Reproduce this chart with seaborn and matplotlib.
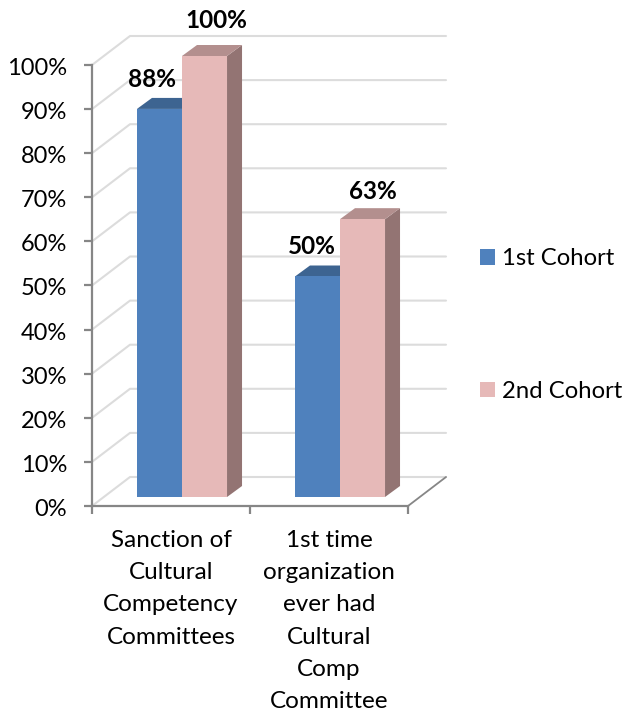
import pandas as pd
import matplotlib.pyplot as plt
import seaborn as sns
from matplotlib.patches import Polygon
from matplotlib.transforms import Affine2D, IdentityTransform

categories = ['Sanction of\nCultural\nCompetency\nCommittees',
              '1st time\norganization\never had\nCultural\nComp\nCommittee']
cohorts = ['1st Cohort', '2nd Cohort']
first_cohort = [88, 50]
second_cohort = [100, 63]
yticks = list(range(0, 101, 10))

colors = {'1st Cohort': '#4f81bd', '2nd Cohort': '#e6b9b8'}
top_colors = ['#3d6491', '#b38f8e']
side_colors = ['#3a5f8a', '#937473']
grid_color = '#dcdcdc'
axis_color = '#868686'

df = pd.DataFrame({'cat': categories * 2,
                   'cohort': [cohorts[0]] * 2 + [cohorts[1]] * 2,
                   'value': first_cohort + second_cohort})

sns.set_style('ticks')
plt.rcParams['font.family'] = ['Lato', 'DejaVu Sans']

W, H = 623, 715
fig = plt.figure(figsize=(W / 100, H / 100), dpi=100)
ax = fig.add_axes([92 / W, (H - 506) / H, 316 / W, 441 / H])

sns.barplot(data=df, x='cat', y='value', hue='cohort', hue_order=cohorts,
            palette=colors, saturation=1, width=0.57, gap=0, dodge=True,
            errorbar=None, ax=ax, zorder=3, linewidth=0, edgecolor='none')
ax.set_xlim(-0.5, 1.5)
ax.set_ylim(0, 100)
ax.set_xlabel('')
ax.set_ylabel('')
ax.set_yticks(yticks)
ax.set_yticklabels(['%d%%' % t for t in yticks], fontsize=17, color='black')
ax.set_xticks([-0.5, 0.5, 1.5], minor=False)
ax.set_xticklabels(['', '', ''])
sns.despine(ax=ax)

# the 3D look: wall/floor shift and bar shift, in pixels
wall_dx, wall_dy = 38, 29
bar_dx, bar_dy = 11, 9
depth_dx, depth_dy = 15, 11

for s in ['left', 'bottom']:
    ax.spines[s].set_color(axis_color)
    ax.spines[s].set_linewidth(1.6)
ax.tick_params(axis='y', length=6, width=1.6, color=axis_color, pad=12)
ax.tick_params(axis='x', length=5.5, width=1.6, color=axis_color)
for lab in ax.get_yticklabels():
    lab.set_transform(lab.get_transform() + Affine2D().translate(0, -1.5))

fig.canvas.draw()
px = IdentityTransform()

# gridlines on side and back wall
for t in yticks:
    x0, y0 = ax.transData.transform((-0.5, t))
    x1, _ = ax.transData.transform((1.5, t))
    ax.plot([x0, x0 + wall_dx, x1 + wall_dx], [y0, y0 + wall_dy, y0 + wall_dy],
            transform=px, color=grid_color, lw=1.5, clip_on=False, zorder=1)
x0, y0 = ax.transData.transform((1.5, 0))
ax.plot([x0, x0 + wall_dx], [y0, y0 + wall_dy], transform=px,
        color=axis_color, lw=1.3, clip_on=False, zorder=1)

# labels sit off the bar centre as in the picture
label_offsets = [(-7, 29), (-6, 30), (12, 35), (10, 28)]
shift = Affine2D().translate(bar_dx, bar_dy)
bars = [b for b in ax.patches if b.get_height() > 0]
for i, b in enumerate(bars):
    n = i // 2
    (xa, ya) = ax.transData.transform((b.get_x(), b.get_height()))
    (xb, yb) = ax.transData.transform((b.get_x() + b.get_width(), 0))
    xa, xb = xa + bar_dx, xb + bar_dx
    ya, yb = ya + bar_dy, yb + bar_dy
    top = [(xa, ya), (xb, ya), (xb + depth_dx, ya + depth_dy), (xa + depth_dx, ya + depth_dy)]
    side = [(xb, ya), (xb + depth_dx, ya + depth_dy), (xb + depth_dx, yb + depth_dy), (xb, yb)]
    z = 2 + n * 0.5
    ax.add_patch(Polygon(side, transform=px, fc=side_colors[n], ec='none', clip_on=False, zorder=z))
    ax.add_patch(Polygon(top, transform=px, fc=top_colors[n], ec='none', clip_on=False, zorder=z))
    b.set_transform(ax.transData + shift)
    b.set_clip_on(False)
    b.set_zorder(z + 0.1)
    ax.annotate('%d%%' % b.get_height(),
                xy=((xa + xb) / 2 + label_offsets[i][0], ya + label_offsets[i][1]),
                xycoords=px, ha='center', va='center', fontsize=17.5,
                fontweight='bold', color='black', annotation_clip=False)

# category labels
for i, c in enumerate(categories):
    ax.annotate(c, xy=(i, 0), xycoords=ax.get_xaxis_transform(), xytext=(0, -24),
                textcoords='offset pixels', ha='center', va='top', fontsize=17.5,
                linespacing=1.66, color='black', annotation_clip=False)

leg = ax.legend(loc='center left', bbox_to_anchor=(480 / W, (H - 325) / H),
                bbox_transform=fig.transFigure, frameon=False, fontsize=17.2,
                borderpad=0, borderaxespad=0, handlelength=0.63, handleheight=0.63,
                handletextpad=0.3, labelspacing=4.68)
for t in leg.get_texts():
    t.set_color('black')

fig.savefig('out.png', dpi=100)
